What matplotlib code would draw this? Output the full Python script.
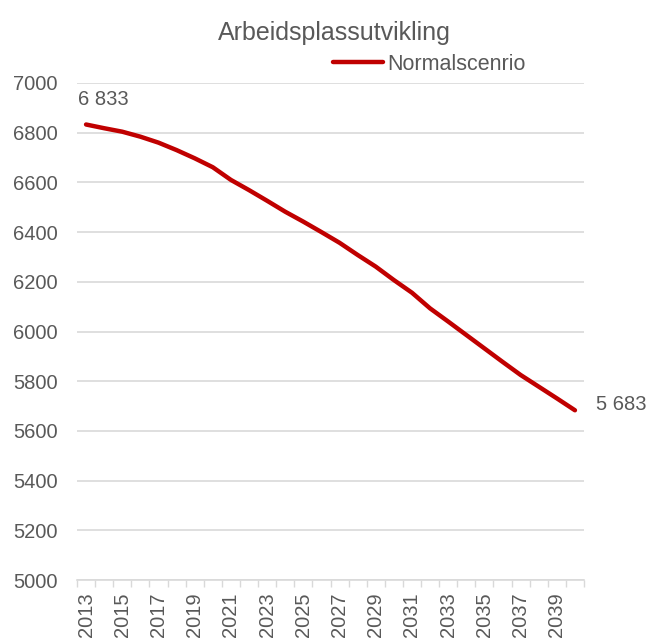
import numpy as np
import matplotlib.pyplot as plt

# Arbeidsplassutvikling - normalscenario 2013-2040
years = list(range(2013, 2041))
jobs = [6833, 6818, 6804, 6784, 6760, 6730, 6697, 6661, 6610, 6569,
        6526, 6482, 6442, 6400, 6357, 6308, 6261, 6207, 6156, 6093,
        6040, 5986, 5932, 5878, 5825, 5778, 5731, 5683]
first_label = "6 833"
last_label = "5 683"

plt.rcParams['font.family'] = ['Liberation Sans', 'DejaVu Sans']
grey = '#595959'
red = '#C00000'

fig = plt.figure(figsize=(6.49, 6.42), dpi=100)
ax = fig.add_axes([77 / 649, 1 - 580 / 642, (584 - 77) / 649, (580 - 83) / 642])

x = np.arange(len(years))
ax.plot(x, jobs, color=red, linewidth=3.2, solid_capstyle='round', label='Normalscenrio')

ax.set_xlim(-0.5, len(years) - 0.5)
ax.set_ylim(5000, 7000)
ax.set_yticks(np.arange(5000, 7001, 200))
ax.yaxis.grid(True, color='#d9d9d9', linewidth=1.2)
ax.set_axisbelow(True)

# category axis: ticks between categories, labels on every other year
ax.set_xticks(np.arange(-0.5, len(years), 1))
ax.set_xticklabels([])
ax.set_xticks(x[::2], minor=True)
ax.set_xticklabels([str(y) for y in years[::2]], minor=True, rotation=90)
ax.tick_params(axis='x', which='major', length=5, color='#d9d9d9', width=1)
ax.tick_params(axis='x', which='minor', length=0, pad=9, labelsize=14.5, labelcolor=grey)
ax.tick_params(axis='y', length=0, pad=14, labelsize=14.5, labelcolor=grey)

for s in ['top', 'right', 'left']:
    ax.spines[s].set_visible(False)
ax.spines['bottom'].set_color('#d9d9d9')
ax.spines['bottom'].set_linewidth(1.2)

ax.annotate(first_label, (x[0], jobs[0]), xytext=(-6, 18), textcoords='offset points',
            fontsize=14.5, color=grey, ha='left', va='center')
ax.annotate(last_label, (x[-1], jobs[-1]), xytext=(15, 4), textcoords='offset points',
            fontsize=14.5, color=grey, ha='left', va='center')

fig.text(334 / 649, 1 - 33 / 642, 'Arbeidsplassutvikling', fontsize=18,
         color=grey, ha='center', va='center')
leg = ax.legend(loc='center left', bbox_to_anchor=(333 / 649, 1 - 64 / 642),
                bbox_transform=fig.transFigure, frameon=False, fontsize=15.5,
                handlelength=2.3, handletextpad=0.2, borderpad=0, borderaxespad=0)
for t in leg.get_texts():
    t.set_color(grey)

fig.savefig('out.png', dpi=100)
